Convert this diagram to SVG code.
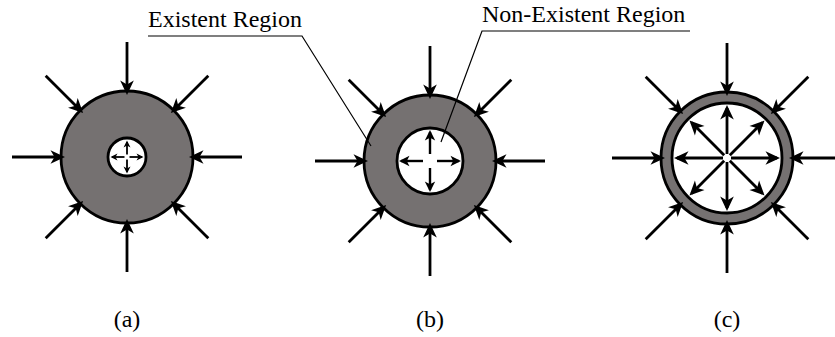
<svg xmlns="http://www.w3.org/2000/svg" width="835" height="337" viewBox="0 0 835 337">
<style>
.txt{font-family:"Liberation Serif","Times New Roman",serif;font-size:24px;fill:#000}
.ring{fill:#757171;stroke:#000;stroke-width:2.8}
.hole{fill:#fff;stroke:#000;stroke-width:2.8}
.arr{stroke:#000;stroke-width:2.8;fill:none;marker-end:url(#ah)}
.arrS{stroke:#000;stroke-width:1.8;fill:none;marker-end:url(#ahS)}
.arrM{stroke:#000;stroke-width:2.4;fill:none;marker-end:url(#ahM)}
.lead{stroke:#000;stroke-width:1.2;fill:none}
</style>
<defs>
<marker id="ah" markerUnits="userSpaceOnUse" orient="auto" overflow="visible" markerWidth="1" markerHeight="1" refX="0" refY="0"><path d="M3,0 L-11.5,-6.8 L-7.5,0 L-11.5,6.8 Z" fill="#000"/></marker>
<marker id="ahM" markerUnits="userSpaceOnUse" orient="auto" overflow="visible" markerWidth="1" markerHeight="1" refX="0" refY="0"><path d="M2,0 L-8.5,-5.2 L-5.8,0 L-8.5,5.2 Z" fill="#000"/></marker>
<marker id="ahS" markerUnits="userSpaceOnUse" orient="auto" overflow="visible" markerWidth="1" markerHeight="1" refX="0" refY="0"><path d="M1.5,0 L-5.5,-3.5 L-3.5,0 L-5.5,3.5 Z" fill="#000"/></marker>
</defs>

<g id="nodeA">
<circle class="ring" cx="127" cy="157" r="66"/>
<circle class="hole" cx="127" cy="157" r="19"/>
</g>
<g id="nodeB">
<circle class="ring" cx="430" cy="161" r="66"/>
<circle class="hole" cx="430" cy="161" r="33"/>
</g>
<g id="nodeC">
<circle class="ring" cx="727" cy="158" r="66"/>
<circle class="hole" cx="727" cy="158" r="55"/>
</g>

<g id="connectors">
<!-- A outer -->
<line class="arr" x1="242" y1="157" x2="192" y2="157"/>
<line class="arr" x1="12" y1="157" x2="62" y2="157"/>
<line class="arr" x1="127" y1="42" x2="127" y2="92"/>
<line class="arr" x1="127" y1="272" x2="127" y2="222"/>
<line class="arr" x1="45.7" y1="75.7" x2="81" y2="111"/>
<line class="arr" x1="208.3" y1="75.7" x2="173" y2="111"/>
<line class="arr" x1="45.7" y1="238.3" x2="81" y2="203"/>
<line class="arr" x1="208.3" y1="238.3" x2="173" y2="203"/>
<!-- A inner -->
<line class="arrS" x1="129.5" y1="157" x2="142" y2="157"/>
<line class="arrS" x1="124.5" y1="157" x2="112" y2="157"/>
<line class="arrS" x1="127" y1="154.5" x2="127" y2="142"/>
<line class="arrS" x1="127" y1="159.5" x2="127" y2="172"/>
<!-- B outer -->
<line class="arr" x1="545" y1="161" x2="495" y2="161"/>
<line class="arr" x1="315" y1="161" x2="365" y2="161"/>
<line class="arr" x1="430" y1="46" x2="430" y2="96"/>
<line class="arr" x1="430" y1="276" x2="430" y2="226"/>
<line class="arr" x1="348.7" y1="79.7" x2="384" y2="115"/>
<line class="arr" x1="511.3" y1="79.7" x2="476" y2="115"/>
<line class="arr" x1="348.7" y1="242.3" x2="384" y2="207"/>
<line class="arr" x1="511.3" y1="242.3" x2="476" y2="207"/>
<!-- B inner -->
<line class="arrM" x1="437" y1="161" x2="459" y2="161"/>
<line class="arrM" x1="423" y1="161" x2="401" y2="161"/>
<line class="arrM" x1="430" y1="154" x2="430" y2="132"/>
<line class="arrM" x1="430" y1="168" x2="430" y2="190"/>
<!-- C outer -->
<line class="arr" x1="842" y1="158" x2="792" y2="158"/>
<line class="arr" x1="612" y1="158" x2="662" y2="158"/>
<line class="arr" x1="727" y1="43" x2="727" y2="93"/>
<line class="arr" x1="727" y1="273" x2="727" y2="223"/>
<line class="arr" x1="645.7" y1="76.7" x2="681" y2="112"/>
<line class="arr" x1="808.3" y1="76.7" x2="773" y2="112"/>
<line class="arr" x1="645.7" y1="239.3" x2="681" y2="204"/>
<line class="arr" x1="808.3" y1="239.3" x2="773" y2="204"/>
<!-- C inner -->
<line class="arr" x1="731" y1="158" x2="777" y2="158"/>
<line class="arr" x1="723" y1="158" x2="677" y2="158"/>
<line class="arr" x1="727" y1="154" x2="727" y2="108"/>
<line class="arr" x1="727" y1="162" x2="727" y2="208"/>
<line class="arr" x1="729.8" y1="155.2" x2="762.4" y2="122.6"/>
<line class="arr" x1="724.2" y1="155.2" x2="691.6" y2="122.6"/>
<line class="arr" x1="729.8" y1="160.8" x2="762.4" y2="193.4"/>
<line class="arr" x1="724.2" y1="160.8" x2="691.6" y2="193.4"/>
<!-- leaders -->
<polyline class="lead" points="148,36 302,36 371,146"/>
<polyline class="lead" points="690,31 482,31 441,142"/>
</g>

<g id="labels">
<text class="txt" x="148" y="27">Existent Region</text>
<text class="txt" x="482" y="22">Non-Existent Region</text>
<text class="txt" x="127" y="327" text-anchor="middle">(a)</text>
<text class="txt" x="430" y="327" text-anchor="middle">(b)</text>
<text class="txt" x="727" y="327" text-anchor="middle">(c)</text>
</g>
</svg>
